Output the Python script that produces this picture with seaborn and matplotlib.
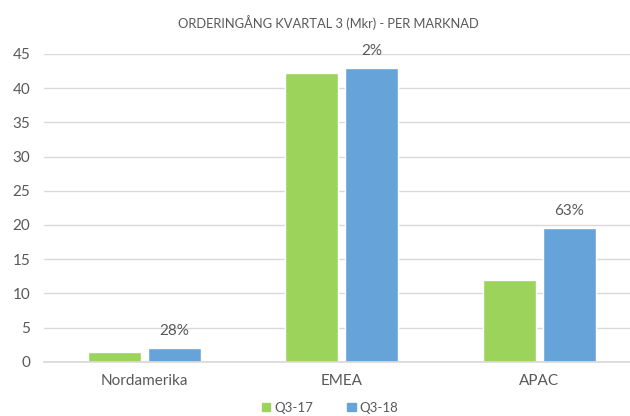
import matplotlib
matplotlib.use("Agg")
import matplotlib.pyplot as plt
import pandas as pd
import seaborn as sns

# Data
markets = ["Nordamerika", "EMEA", "APAC"]
q3_17 = [1.4, 42.2, 12.0]
q3_18 = [2.0, 43.0, 19.6]
growth = ["28%", "2%", "63%"]
periods = ["Q3-17", "Q3-18"]

COLORS = {"Q3-17": "#9BD35B", "Q3-18": "#66A3D9"}
TEXT = "#595959"

sns.set_theme(style="white")
plt.rcParams["font.family"] = ["Lato", "DejaVu Sans"]

df = pd.DataFrame({
    "market": markets * 2,
    "period": [periods[0]] * 3 + [periods[1]] * 3,
    "value": q3_17 + q3_18,
})

fig = plt.figure(figsize=(6.3, 4.16), dpi=100)
ax = fig.add_axes([0.0698, 0.1305, 0.9302, 0.7397])

sns.barplot(
    data=df, x="market", y="value", hue="period", order=markets,
    hue_order=periods, palette=COLORS, width=0.607, gap=0.117,
    saturation=1, ax=ax, legend=False,
)

# growth labels above the Q3-18 bars
for bar, txt in zip(ax.containers[1], growth):
    ax.annotate(txt, (bar.get_x() + bar.get_width() / 2, bar.get_height()),
                xytext=(0, 7), textcoords="offset points",
                ha="center", va="bottom", fontsize=11, color=TEXT)

ax.set_xlim(-0.506, 2.458)
ax.set_ylim(0, 45)
ax.set_yticks(range(0, 46, 5))
ax.yaxis.grid(True, color="#D9D9D9", linewidth=1)
ax.set_axisbelow(True)
for side in ["top", "right", "left"]:
    ax.spines[side].set_visible(False)
ax.spines["bottom"].set_color("#D9D9D9")
ax.tick_params(axis="both", length=0, labelsize=11, colors=TEXT)
ax.tick_params(axis="x", pad=9)
ax.tick_params(axis="y", pad=10)
ax.set_xlabel("")
ax.set_ylabel("")

fig.text(0.522, 0.945, "ORDERINGÅNG KVARTAL 3 (Mkr) - PER MARKNAD",
         ha="center", va="center", fontsize=9.3, color=TEXT)

handles = [plt.Rectangle((0, 0), 1, 1, color=COLORS[p]) for p in periods]
fig.legend(handles, periods, loc="center", bbox_to_anchor=(0.524, 0.02),
           ncol=2, frameon=False, fontsize=9.5, handlelength=0.65,
           handleheight=0.65, handletextpad=0.3, columnspacing=2.6,
           labelcolor=TEXT)

fig.savefig("out.png", dpi=100)
plt.close(fig)
